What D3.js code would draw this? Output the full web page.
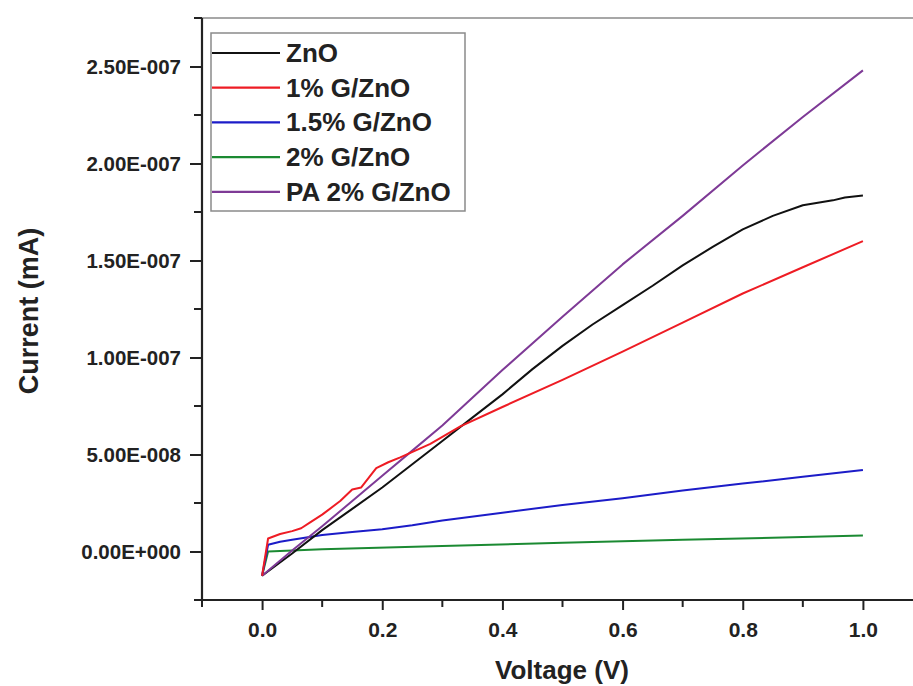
<!DOCTYPE html>
<html>
<head>
<meta charset="utf-8">
<script src="https://cdn.jsdelivr.net/npm/d3@7"></script>
<style>
  html, body { margin: 0; padding: 0; background: #fff; }
  svg { display: block; }
  text { font-family: "Liberation Sans", Arial, sans-serif; font-weight: bold; fill: #222; }
</style>
</head>
<body>
<svg id="chart" width="913" height="686"></svg>
<script>
// ---- data ----
const seriesNames = ["ZnO", "1% G/ZnO", "1.5% G/ZnO", "2% G/ZnO", "PA 2% G/ZnO"];
const seriesColors = ["#111111", "#ee1c24", "#1c1cc8", "#1b8a32", "#7e3a96"];

const znoV = [0, 0.05, 0.1, 0.15, 0.2, 0.25, 0.3, 0.35, 0.4, 0.45, 0.5, 0.55, 0.6, 0.65, 0.7, 0.75, 0.8, 0.85, 0.9, 0.93, 0.95, 0.97, 1.0];
const znoI = [-1.25e-8, -0.1e-8, 1.1e-8, 2.2e-8, 3.3e-8, 4.5e-8, 5.7e-8, 6.9e-8, 8.1e-8, 9.4e-8, 1.06e-7, 1.17e-7, 1.27e-7, 1.37e-7, 1.475e-7, 1.57e-7, 1.66e-7, 1.73e-7, 1.785e-7, 1.80e-7, 1.81e-7, 1.825e-7, 1.835e-7];

const g1V = [0, 0.01, 0.03, 0.05, 0.065, 0.08, 0.1, 0.13, 0.15, 0.165, 0.19, 0.21, 0.23, 0.28, 0.33, 0.4, 0.5, 0.6, 0.7, 0.8, 0.9, 1.0];
const g1I = [-1.25e-8, 6.7e-9, 9e-9, 1.05e-8, 1.2e-8, 1.5e-8, 1.9e-8, 2.6e-8, 3.2e-8, 3.3e-8, 4.3e-8, 4.6e-8, 4.85e-8, 5.55e-8, 6.45e-8, 7.45e-8, 8.85e-8, 1.03e-7, 1.18e-7, 1.33e-7, 1.465e-7, 1.60e-7];

const g15V = [0, 0.01, 0.03, 0.05, 0.1, 0.15, 0.2, 0.25, 0.3, 0.4, 0.5, 0.6, 0.7, 0.8, 0.9, 1.0];
const g15I = [-1.25e-8, 3.5e-9, 5e-9, 6e-9, 8.5e-9, 1.0e-8, 1.15e-8, 1.35e-8, 1.6e-8, 2.0e-8, 2.4e-8, 2.75e-8, 3.15e-8, 3.5e-8, 3.85e-8, 4.2e-8];

const g2V = [0, 0.01, 0.1, 0.3, 0.5, 0.7, 0.9, 1.0];
const g2I = [-1.25e-8, 0, 1.2e-9, 2.8e-9, 4.5e-9, 6.0e-9, 7.5e-9, 8.3e-9];

const paV = [0, 0.05, 0.1, 0.2, 0.25, 0.3, 0.4, 0.5, 0.6, 0.7, 0.8, 0.9, 1.0];
const paI = [-1.25e-8, 0.5e-9, 1.3e-8, 3.9e-8, 5.2e-8, 6.5e-8, 9.35e-8, 1.21e-7, 1.48e-7, 1.73e-7, 1.99e-7, 2.24e-7, 2.48e-7];

const xMajorTicks = [0, 0.2, 0.4, 0.6, 0.8, 1.0];
const xMajorLabels = ["0.0", "0.2", "0.4", "0.6", "0.8", "1.0"];
const xMinorTicks = [-0.1, 0.1, 0.3, 0.5, 0.7, 0.9];
const yMajorTicks = [0, 5e-8, 1e-7, 1.5e-7, 2e-7, 2.5e-7];
const yMajorLabels = ["0.00E+000", "5.00E-008", "1.00E-007", "1.50E-007", "2.00E-007", "2.50E-007"];
const yMinorTicks = [-2.5e-8, 2.5e-8, 7.5e-8, 1.25e-7, 1.75e-7, 2.25e-7, 2.75e-7];

const xTitle = "Voltage (V)";
const yTitle = "Current (mA)";

// ---- layout ----
const svg = d3.select("#chart");
const plotL = 202, plotR = 923, plotT = 18, plotB = 600;
const x = d3.scaleLinear().domain([-0.1, 1.1]).range([plotL, plotR]);
const y = d3.scaleLinear().domain([-2.5e-8, 2.75e-7]).range([plotB, plotT]);

// top frame line
svg.append("line").attr("x1", plotL).attr("x2", plotR).attr("y1", plotT).attr("y2", plotT)
  .attr("stroke", "#8a8a8a").attr("stroke-width", 1.5);

// curves
const series = [
  {v: znoV, i: znoI}, {v: g1V, i: g1I}, {v: g15V, i: g15I}, {v: g2V, i: g2I}, {v: paV, i: paI}
];
const line = d3.line().x(d => x(d[0])).y(d => y(d[1]));
const drawOrder = [3, 2, 0, 4, 1];
drawOrder.forEach(k => {
  const pts = series[k].v.map((v, j) => [v, series[k].i[j]]);
  svg.append("path").attr("d", line(pts)).attr("fill", "none")
    .attr("stroke", seriesColors[k]).attr("stroke-width", 2).attr("stroke-linejoin", "round");
});

// x axis
const xAxisG = svg.append("g").attr("transform", `translate(0,${plotB})`);
xAxisG.call(d3.axisBottom(x).tickValues(xMajorTicks).tickSize(10).tickPadding(12)
  .tickFormat((d, i) => xMajorLabels[i]));
xAxisG.call(g => g.select(".domain").remove());
xAxisG.selectAll(".tick line").attr("stroke", "#222").attr("stroke-width", 2);
xAxisG.selectAll(".tick text").attr("font-size", 21).attr("font-family", "Liberation Sans, Arial, sans-serif")
  .attr("font-weight", "bold").attr("fill", "#222");
xAxisG.selectAll(".minor").data(xMinorTicks).enter().append("line")
  .attr("x1", d => x(d)).attr("x2", d => x(d)).attr("y1", 0).attr("y2", 7)
  .attr("stroke", "#222").attr("stroke-width", 2);

// y axis
const yAxisG = svg.append("g").attr("transform", `translate(${plotL},0)`);
yAxisG.call(d3.axisLeft(y).tickValues(yMajorTicks).tickSize(12).tickPadding(9)
  .tickFormat((d, i) => yMajorLabels[i]));
yAxisG.call(g => g.select(".domain").remove());
yAxisG.selectAll(".tick line").attr("stroke", "#222").attr("stroke-width", 2);
yAxisG.selectAll(".tick text").attr("font-size", 20.5).attr("font-family", "Liberation Sans, Arial, sans-serif")
  .attr("font-weight", "bold").attr("fill", "#222");
yAxisG.selectAll(".minor").data(yMinorTicks).enter().append("line")
  .attr("x1", -8).attr("x2", 0).attr("y1", d => y(d)).attr("y2", d => y(d))
  .attr("stroke", "#222").attr("stroke-width", 2);

// axis lines
svg.append("line").attr("x1", plotL).attr("x2", plotL).attr("y1", plotT).attr("y2", plotB + 1)
  .attr("stroke", "#222").attr("stroke-width", 2.2);
svg.append("line").attr("x1", plotL - 1).attr("x2", plotR).attr("y1", plotB).attr("y2", plotB)
  .attr("stroke", "#222").attr("stroke-width", 2.2);

// axis titles
svg.append("text").attr("x", 562).attr("y", 679).attr("text-anchor", "middle")
  .attr("font-size", 26).text(xTitle);
svg.append("text").attr("transform", "translate(38,311) rotate(-90)").attr("text-anchor", "middle")
  .attr("font-size", 27).text(yTitle);

// legend
const lg = svg.append("g");
lg.append("rect").attr("x", 211).attr("y", 33).attr("width", 254).attr("height", 178)
  .attr("fill", "#fff").attr("stroke", "#8a8a8a").attr("stroke-width", 1.5);
seriesNames.forEach((name, k) => {
  const cy = 53 + k * 34.7;
  lg.append("line").attr("x1", 212).attr("x2", 280).attr("y1", cy).attr("y2", cy)
    .attr("stroke", seriesColors[k]).attr("stroke-width", 2.2);
  lg.append("text").attr("x", 286).attr("y", cy + 9).attr("font-size", 26).text(name);
});
</script>
</body>
</html>
